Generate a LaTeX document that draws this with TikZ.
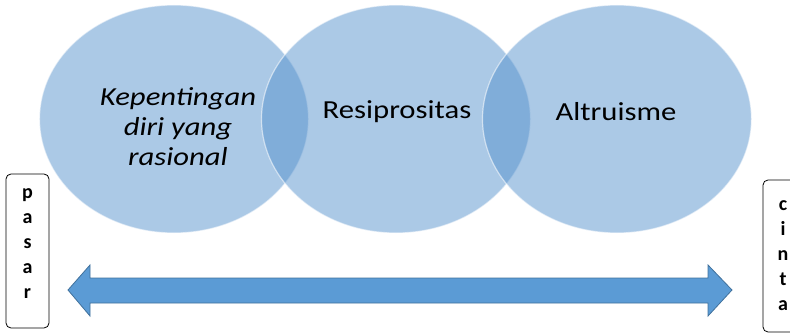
\documentclass[tikz,border=0pt]{standalone}
\usepackage{fontspec}
\setmainfont{Carlito}
\usetikzlibrary{shapes.geometric}
\definecolor{bubblue}{RGB}{83,144,204}
\definecolor{arrblue}{RGB}{91,155,213}
\definecolor{arredge}{RGB}{65,113,156}

\begin{document}
\begin{tikzpicture}[x=1pt,y=-1pt,
  bub/.style={circle,minimum size=228pt,xscale=1.18,fill=bubblue,fill opacity=0.49,draw=white,draw opacity=0.55,line width=1.2pt},
  lbl/.style={align=center,xscale=1.18,font=\fontsize{26}{30}\selectfont},
  lblit/.style={lbl,font=\fontsize{26}{30}\selectfont\itshape},
  endbox/.style={draw,rounded corners=5pt,line width=0.8pt,align=center,font=\fontsize{20}{25}\selectfont\bfseries}]
\useasboundingbox (0,0) rectangle (790,334);
\foreach \x/\n in {174/kep,396/res,617/alt} {
   \node[bub] (\n) at (\x,119) {};
}
\node[lblit] (kepL) at (178,127) {Kepentingan\\diri yang\\rasional};
\node[lbl] (resL) at (397,112) {Resiprositas};
\node[lbl] (altL) at (616,112) {Altruisme};
% skala
\filldraw[fill=arrblue,draw=arredge,line width=0.8pt]
   (68,290) -- (90,265) -- (90,278) -- (708,278) -- (708,265) -- (732,290)
   -- (708,316) -- (708,303) -- (90,303) -- (90,316) -- cycle;
\node[endbox,minimum width=43pt,minimum height=154pt,text depth=14pt] (pasar) at (27.5,251) {p\\a\\s\\a\\r};
\node[endbox,minimum width=40pt,minimum height=152pt] (cinta) at (783,256) {c\\i\\n\\t\\a};
\end{tikzpicture}
\end{document}
